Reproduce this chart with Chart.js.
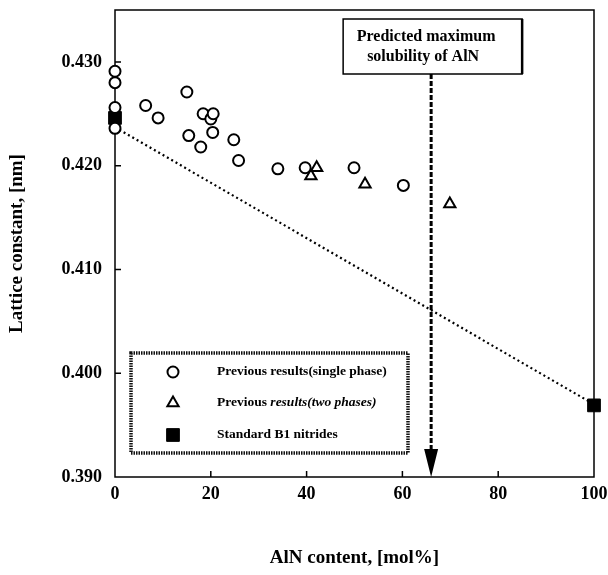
<!DOCTYPE html>
<html>
<head>
<meta charset="utf-8">
<script src="https://cdn.jsdelivr.net/npm/chart.js@4.4.1/dist/chart.umd.min.js"></script>
<style>
  html, body { margin: 0; padding: 0; background: #fff; }
  #wrap { width: 608px; height: 575px; }
</style>
</head>
<body>
<div id="wrap"><canvas id="latticeChart" width="608" height="575"></canvas></div>
<script>
// values
const singleX = [0, 0, 0, 0, 6.4, 9.0, 15.0, 15.4, 17.9, 18.4, 20.0, 20.5, 20.4, 24.8, 25.8, 34.0, 39.7, 49.9, 60.2];
const singleY = [0.4291, 0.4280, 0.4256, 0.4236, 0.4258, 0.4246, 0.4271, 0.4229, 0.4218, 0.4250, 0.4245, 0.4250, 0.4232, 0.4225, 0.4205, 0.4197, 0.4198, 0.4198, 0.4181];
const twoX = [40.9, 42.1, 52.2, 69.9];
const twoY = [0.4190, 0.4198, 0.4182, 0.4163];
const stdX = [0, 100];
const stdY = [0.4246, 0.3969];
const vegardX = [0, 100];
const vegardY = [0.4237, 0.3970];
const solubilityX = 66;

const xTicks = [0, 20, 40, 60, 80, 100];
const yTicks = [0.390, 0.400, 0.410, 0.420, 0.430];
const legendLabels = ["Previous results(single phase)", "Previous results(two phases)", "Standard B1 nitrides"];
const noteLines = ["Predicted maximum", "solubility of AlN"];

const FONT = "'Liberation Serif', 'Times New Roman', serif";

const toPoints = (xs, ys) => xs.map((x, i) => ({x: x, y: ys[i]}));

const framePlugin = {
    id: "frame",
    beforeDatasetsDraw(chart) {
        const {ctx, chartArea: a, scales: {x, y}} = chart;
        ctx.save();
        ctx.strokeStyle = "#000";
        ctx.lineWidth = 1.5;
        ctx.strokeRect(a.left, a.top, a.right - a.left, a.bottom - a.top);
        ctx.beginPath();
        xTicks.slice(1, -1).forEach(v => {
            const px = x.getPixelForValue(v);
            ctx.moveTo(px, a.bottom);
            ctx.lineTo(px, a.bottom - 6);
        });
        yTicks.slice(1).forEach(v => {
            const py = y.getPixelForValue(v);
            ctx.moveTo(a.left, py);
            ctx.lineTo(a.left + 6, py);
        });
        ctx.stroke();
        ctx.restore();
    }
};

const notePlugin = {
    id: "note",
    afterDatasetsDraw(chart) {
        const {ctx, chartArea: a, scales: {x}} = chart;
        const x0 = x.getPixelForValue(solubilityX);
        const boxL = x0 - 88, boxT = 19, boxW = 179, boxH = 55;
        ctx.save();
        // dashed arrow
        ctx.strokeStyle = "#000";
        ctx.lineWidth = 3;
        ctx.setLineDash([5, 2]);
        ctx.beginPath();
        ctx.moveTo(x0, boxT + boxH);
        ctx.lineTo(x0, a.bottom - 28);
        ctx.stroke();
        ctx.setLineDash([]);
        ctx.fillStyle = "#000";
        ctx.beginPath();
        ctx.moveTo(x0 - 7, a.bottom - 28);
        ctx.lineTo(x0 + 7, a.bottom - 28);
        ctx.lineTo(x0, a.bottom);
        ctx.closePath();
        ctx.fill();
        // text box
        ctx.fillStyle = "#fff";
        ctx.fillRect(boxL, boxT, boxW, boxH);
        ctx.lineWidth = 1.5;
        ctx.strokeRect(boxL, boxT, boxW, boxH);
        ctx.lineWidth = 2.5;
        ctx.beginPath();
        ctx.moveTo(boxL + boxW, boxT);
        ctx.lineTo(boxL + boxW, boxT + boxH);
        ctx.stroke();
        ctx.fillStyle = "#000";
        ctx.font = "bold 16px " + FONT;
        ctx.textAlign = "center";
        ctx.textBaseline = "middle";
        ctx.fillText(noteLines[0], x0 - 5, boxT + 18);
        ctx.fillText(noteLines[1], x0 - 8, boxT + 38);
        ctx.restore();
    }
};

const legendPlugin = {
    id: "boxLegend",
    afterDraw(chart) {
        const {ctx, chartArea: a} = chart;
        const L = a.left + 16, T = a.bottom - 124, W = 277, H = 100;
        const rows = [19, 50, 82];
        ctx.save();
        ctx.strokeStyle = "#111";
        ctx.lineWidth = 3.5;
        ctx.setLineDash([1.5, 1]);
        ctx.strokeRect(L, T, W, H);
        ctx.setLineDash([]);
        chart.data.datasets.slice(0, 3).forEach((ds, i) => {
            ctx.fillStyle = ds.backgroundColor;
            ctx.strokeStyle = ds.borderColor;
            ctx.lineWidth = ds.borderWidth;
            Chart.helpers.drawPoint(ctx, {
                pointStyle: ds.pointStyle,
                radius: ds.legendRadius,
                borderWidth: ds.borderWidth,
                rotation: 0
            }, L + 42, T + rows[i]);
            ctx.fillStyle = "#000";
            ctx.textAlign = "left";
            ctx.textBaseline = "middle";
            const label = legendLabels[i];
            if (i === 1) {
                const head = "Previous ";
                ctx.font = "bold 13.5px " + FONT;
                ctx.fillText(head, L + 86, T + rows[i]);
                const w = ctx.measureText(head).width;
                ctx.font = "italic bold 13.5px " + FONT;
                ctx.fillText(label.slice(head.length), L + 86 + w, T + rows[i]);
            } else {
                ctx.font = "bold 13.5px " + FONT;
                ctx.fillText(label, L + 86, T + rows[i]);
            }
        });
        ctx.restore();
    }
};

const ctx = document.getElementById("latticeChart").getContext("2d");

new Chart(ctx, {
    type: "scatter",
    data: {
        datasets: [
            { label: legendLabels[0], data: toPoints(singleX, singleY), pointStyle: "circle", pointRadius: 5.5, legendRadius: 5.5,
              backgroundColor: "#fff", borderColor: "#000", borderWidth: 2, clip: false, order: 1 },
            { label: legendLabels[1], data: toPoints(twoX, twoY), pointStyle: "triangle", pointRadius: 6.5, legendRadius: 6.5,
              backgroundColor: "#fff", borderColor: "#000", borderWidth: 2, clip: false, order: 2 },
            { label: legendLabels[2], data: toPoints(stdX, stdY), pointStyle: "rect", pointRadius: 9, legendRadius: 9,
              backgroundColor: "#000", borderColor: "#000", borderWidth: 1, clip: false, order: 3 },
            { label: "Vegard", data: toPoints(vegardX, vegardY), showLine: true, pointRadius: 0,
              borderColor: "#000", borderWidth: 2.2, borderDash: [2, 3], clip: false, order: 4 }
        ]
    },
    options: {
        responsive: false,
        animation: false,
        layout: {padding: {left: 0, right: 14, top: 8, bottom: 0}},
        plugins: {legend: {display: false}, tooltip: {enabled: false}},
        scales: {
            x: {
                type: "linear", min: 0, max: 100,
                afterBuildTicks: s => { s.ticks = xTicks.map(v => ({value: v})); },
                afterFit: s => { s.height = 98; s.paddingLeft = 0; s.paddingRight = 0; },
                ticks: {color: "#000", padding: 7, font: {family: FONT, size: 18, weight: "bold"}},
                grid: {display: false, drawTicks: false},
                border: {display: false},
                title: {display: true, text: "AlN content, [mol%]", color: "#000", padding: {top: 0, bottom: 6},
                        font: {family: FONT, size: 19, weight: "bold"}}
            },
            y: {
                type: "linear", min: 0.390, max: 0.435,
                afterBuildTicks: s => { s.ticks = yTicks.map(v => ({value: v})); },
                afterFit: s => { s.width = 115; s.paddingTop = 0; s.paddingBottom = 0; },
                ticks: {color: "#000", padding: 13, callback: v => v.toFixed(3),
                        font: {family: FONT, size: 18, weight: "bold"}},
                grid: {display: false, drawTicks: false},
                border: {display: false},
                title: {display: true, text: "Lattice constant, [nm]", color: "#000", padding: {top: 6, bottom: 0},
                        font: {family: FONT, size: 19, weight: "bold"}}
            }
        }
    },
    plugins: [framePlugin, notePlugin, legendPlugin]
});
</script>
</body>
</html>
